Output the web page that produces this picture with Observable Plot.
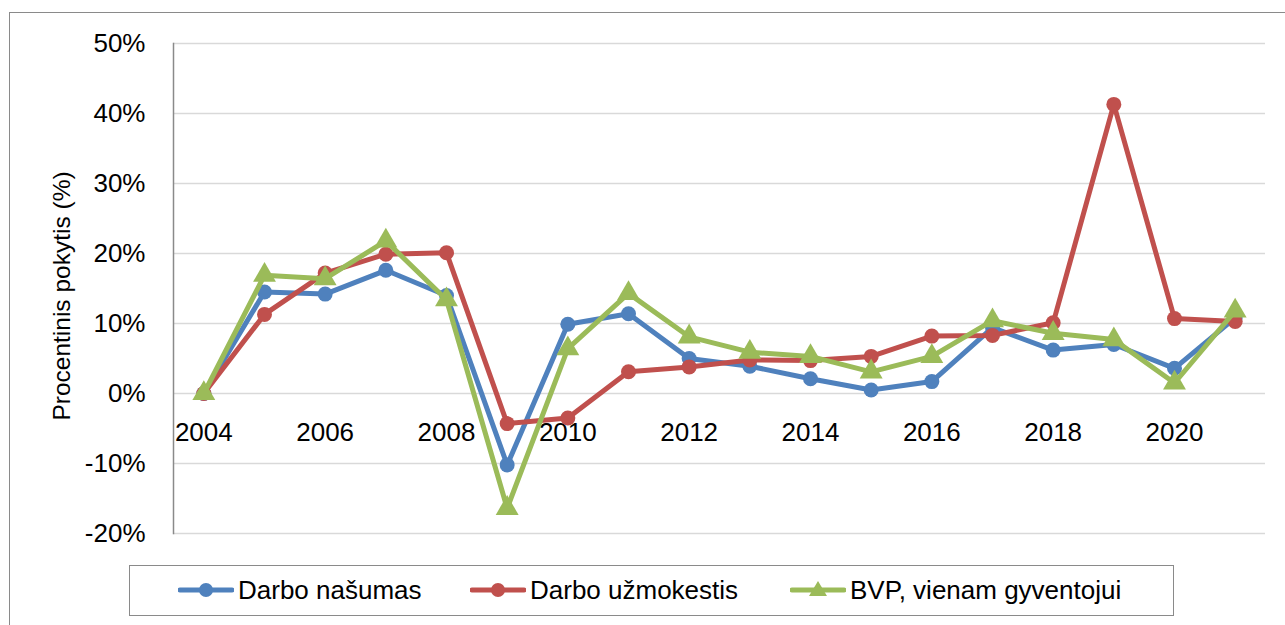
<!DOCTYPE html>
<html>
<head>
<meta charset="utf-8">
<script src="https://cdn.jsdelivr.net/npm/d3@7"></script>
<script src="https://cdn.jsdelivr.net/npm/@observablehq/plot@0.6"></script>
<style>
  html, body { margin: 0; padding: 0; background: #fff; overflow: hidden; }
  body { width: 1285px; height: 625px; position: relative; font-family: "Liberation Sans", Arial, sans-serif; }
  #frame { position: absolute; left: 9px; top: 12px; width: 1400px; height: 800px; border: 1.5px solid #8a8a8a; box-sizing: border-box; }
  #chart { position: absolute; left: 0; top: 0; }
  #ytitle { position: absolute; left: 62px; top: 296px; transform: translate(-50%, -50%) rotate(-90deg); font-size: 24.5px; white-space: nowrap; color: #000; }
  #legend { position: absolute; left: 129px; top: 565px; width: 1045px; height: 51px; border: 1.5px solid #8a8a8a; box-sizing: border-box; background: #fff; }
  .item { position: absolute; top: 0; height: 48px; display: flex; align-items: center; font-size: 26px; color: #000; }
  .item svg { margin-right: 4px; }
</style>
</head>
<body>
<div id="frame"></div>
<div id="chart"></div>
<div id="ytitle">Procentinis pokytis (%)</div>
<div id="legend"></div>
<script>
const years = [2004,2005,2006,2007,2008,2009,2010,2011,2012,2013,2014,2015,2016,2017,2018,2019,2020,2021];
const seriesNames = ["Darbo našumas", "Darbo užmokestis", "BVP, vienam gyventojui"];
const productivity = [0, 14.5, 14.2, 17.6, 14.0, -10.2, 9.9, 11.4, 5.0, 3.9, 2.1, 0.5, 1.7, 9.4, 6.2, 7.0, 3.6, 10.8];
const wages        = [0, 11.3, 17.2, 19.9, 20.1, -4.3, -3.5, 3.1, 3.8, 4.8, 4.7, 5.3, 8.2, 8.3, 10.1, 41.3, 10.7, 10.3];
const gdpPerCapita = [0, 16.9, 16.4, 21.8, 13.4, -16.4, 6.4, 14.3, 8.1, 5.9, 5.3, 3.1, 5.3, 10.4, 8.6, 7.7, 1.5, 11.8];
const yTicks = [-20, -10, 0, 10, 20, 30, 40, 50];
const xTickYears = [2004, 2006, 2008, 2010, 2012, 2014, 2016, 2018, 2020];
const colors = ["#4f81bd", "#c0504d", "#9bbb59"];
const symbols = ["circle", "circle", "triangle"];

const valuesBySeries = [productivity, wages, gdpPerCapita];
const data = [];
seriesNames.forEach((s, i) => years.forEach((y, j) => data.push({series: s, year: y, value: valuesBySeries[i][j]})));

const marks = [
  Plot.gridY(yTicks, {stroke: "#d9d9d9", strokeOpacity: 1, strokeWidth: 1.5}),
  Plot.frame({anchor: "left", stroke: "#8a8a8a", strokeWidth: 1.5}),
  Plot.axisY(yTicks, {tickSize: 0, tickPadding: 28, tickFormat: d => d + "%", fontSize: 26, label: null}),
  Plot.text(xTickYears, {x: d => d, y: () => 0, dy: 39, text: d => String(d), fontSize: 26, fill: "#000"})
];
seriesNames.forEach((s, i) => {
  const sub = data.filter(d => d.series === s);
  marks.push(Plot.line(sub, {x: "year", y: "value", stroke: colors[i], strokeWidth: 5, strokeLinejoin: "round"}));
  marks.push(Plot.dot(sub, {x: "year", y: "value", fill: colors[i], stroke: "none", symbol: symbols[i], r: symbols[i] === "triangle" ? 8.5 : 7.5}));
});

const chart = Plot.plot({
  width: 1285,
  height: 560,
  marginTop: 43,
  marginBottom: 27,
  marginLeft: 173,
  marginRight: 20,
  style: {fontFamily: "'Liberation Sans', Arial, sans-serif", fontSize: "26px", color: "#000", background: "transparent"},
  x: {type: "point", domain: years, padding: 0.5, round: false, axis: null},
  y: {domain: [-20, 50], axis: null},
  marks
});
document.getElementById("chart").appendChild(chart);

// legend
const legend = document.getElementById("legend");
const itemLefts = [48, 340, 660];
seriesNames.forEach((s, i) => {
  const div = document.createElement("div");
  div.className = "item";
  div.style.left = itemLefts[i] + "px";
  const sym = symbols[i] === "circle"
    ? `<circle cx="28" cy="12" r="7" fill="${colors[i]}"/>`
    : `<path d="M28,3 L37,18 L19,18 Z" fill="${colors[i]}"/>`;
  div.innerHTML = `<svg width="56" height="24"><line x1="2" y1="12" x2="54" y2="12" stroke="${colors[i]}" stroke-width="5" stroke-linecap="round"/>${sym}</svg><span>${s}</span>`;
  legend.appendChild(div);
});
</script>
</body>
</html>
